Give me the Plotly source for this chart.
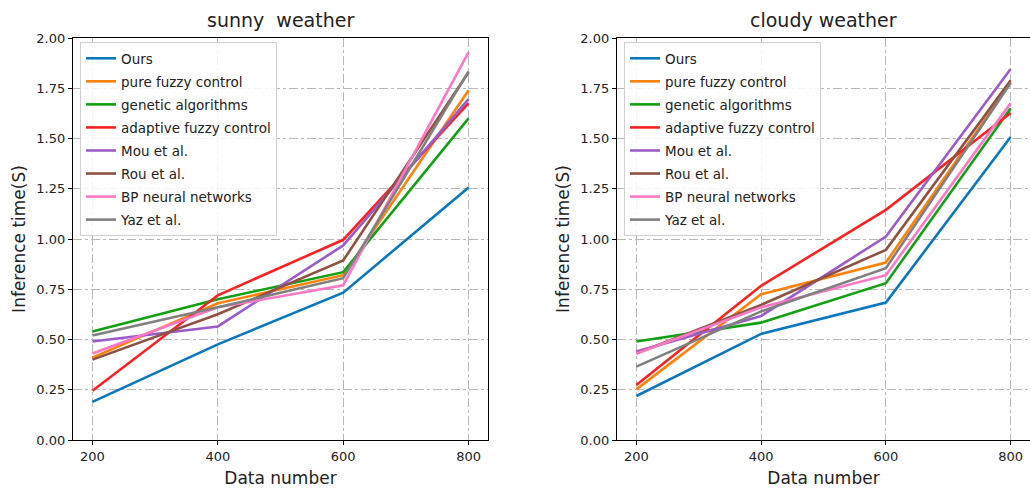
import plotly.graph_objects as go

data_number = [200, 400, 600, 800]
series_names = ["Ours", "pure fuzzy control", "genetic algorithms", "adaptive fuzzy control",
                "Mou et al.", "Rou et al.", "BP neural networks", "Yaz et al."]
colors = ["#0c77bd", "#ff820c", "#14a014", "#f82222", "#9b5cc9", "#8f5242", "#ff78c6", "#808080"]

sunny_ours = [0.19, 0.476, 0.733, 1.256]
sunny_pure_fuzzy = [0.41, 0.68, 0.82, 1.74]
sunny_genetic = [0.54, 0.70, 0.835, 1.60]
sunny_adaptive = [0.245, 0.72, 0.996, 1.676]
sunny_mou = [0.49, 0.565, 0.968, 1.696]
sunny_rou = [0.40, 0.626, 0.893, 1.83]
sunny_bp = [0.43, 0.66, 0.77, 1.93]
sunny_yaz = [0.52, 0.66, 0.805, 1.834]

cloudy_ours = [0.219, 0.528, 0.684, 1.507]
cloudy_pure_fuzzy = [0.252, 0.725, 0.883, 1.78]
cloudy_genetic = [0.49, 0.584, 0.78, 1.65]
cloudy_adaptive = [0.274, 0.767, 1.145, 1.627]
cloudy_mou = [0.44, 0.617, 1.012, 1.846]
cloudy_rou = [0.43, 0.672, 0.946, 1.79]
cloudy_bp = [0.43, 0.66, 0.82, 1.676]
cloudy_yaz = [0.365, 0.64, 0.855, 1.776]

sunny = [sunny_ours, sunny_pure_fuzzy, sunny_genetic, sunny_adaptive, sunny_mou, sunny_rou, sunny_bp, sunny_yaz]
cloudy = [cloudy_ours, cloudy_pure_fuzzy, cloudy_genetic, cloudy_adaptive, cloudy_mou, cloudy_rou, cloudy_bp, cloudy_yaz]

y_ticks = [0, 0.25, 0.5, 0.75, 1.0, 1.25, 1.5, 1.75, 2.0]
x_ticks = [200, 400, 600, 800]

W, H = 1030, 493
FONT = "DejaVu Sans"

fig = go.Figure()
for i, (name, col, ys) in enumerate(zip(series_names, colors, sunny)):
    fig.add_trace(go.Scatter(x=data_number, y=ys, mode="lines", name=name, legendgroup=f"s{i}",
                             line=dict(color=col, width=2.6), xaxis="x", yaxis="y", legend="legend"))
for i, (name, col, ys) in enumerate(zip(series_names, colors, cloudy)):
    fig.add_trace(go.Scatter(x=data_number, y=ys, mode="lines", name=name, legendgroup=f"c{i}",
                             line=dict(color=col, width=2.6), xaxis="x2", yaxis="y2", legend="legend2"))

def px(v):
    return v / W

def py(v):
    return 1 - v / H

common_x = dict(range=[169, 831], tickvals=x_ticks, ticks="outside", ticklen=4, tickcolor="black",
                showline=True, linecolor="black", linewidth=1.2, mirror=True, automargin=False,
                showgrid=True, gridcolor="#b8b8b8", griddash="dashdot", gridwidth=1,
                zeroline=False, tickfont=dict(size=13, color="#222"),
                title=dict(text="Data number", font=dict(size=17, color="#222"), standoff=9))
common_y = dict(range=[0, 2], tickvals=y_ticks, tickformat=".2f", ticks="outside", ticklen=4, tickcolor="black",
                showline=True, linecolor="black", linewidth=1.2, mirror=True, automargin=False,
                showgrid=True, gridcolor="#b8b8b8", griddash="dashdot", gridwidth=1,
                zeroline=False, tickfont=dict(size=13, color="#222"),
                title=dict(text="Inference time(S)", font=dict(size=17, color="#222"), standoff=6))

legend_common = dict(font=dict(size=13.5, color="#222"), bgcolor="rgba(255,255,255,0.85)",
                     bordercolor="#d0d0d0", borderwidth=1, xanchor="left", yanchor="top",
                     tracegroupgap=2.5, itemwidth=30, groupclick="toggleitem")

fig.update_layout(
    width=W, height=H,
    margin=dict(l=0, r=0, t=0, b=0),
    paper_bgcolor="white", plot_bgcolor="white",
    font=dict(family=FONT, color="#222"),
    showlegend=True,
    xaxis=dict(domain=[px(73), px(488)], anchor="y", **common_x),
    yaxis=dict(domain=[py(440), py(38)], anchor="x", **common_y),
    xaxis2=dict(domain=[px(617), px(1030)], anchor="y2", **common_x),
    yaxis2=dict(domain=[py(440), py(38)], anchor="x2", **common_y),
    legend=dict(x=px(80), y=py(42), **legend_common),
    legend2=dict(x=px(624), y=py(42), **legend_common),
    annotations=[
        dict(text="sunny  weather", x=px(280), y=py(20), xref="paper", yref="paper",
             showarrow=False, font=dict(size=19, color="#222"), xanchor="center", yanchor="middle"),
        dict(text="cloudy weather", x=px(823), y=py(20), xref="paper", yref="paper",
             showarrow=False, font=dict(size=19, color="#222"), xanchor="center", yanchor="middle"),
    ],
)

fig.write_html("out.html")
